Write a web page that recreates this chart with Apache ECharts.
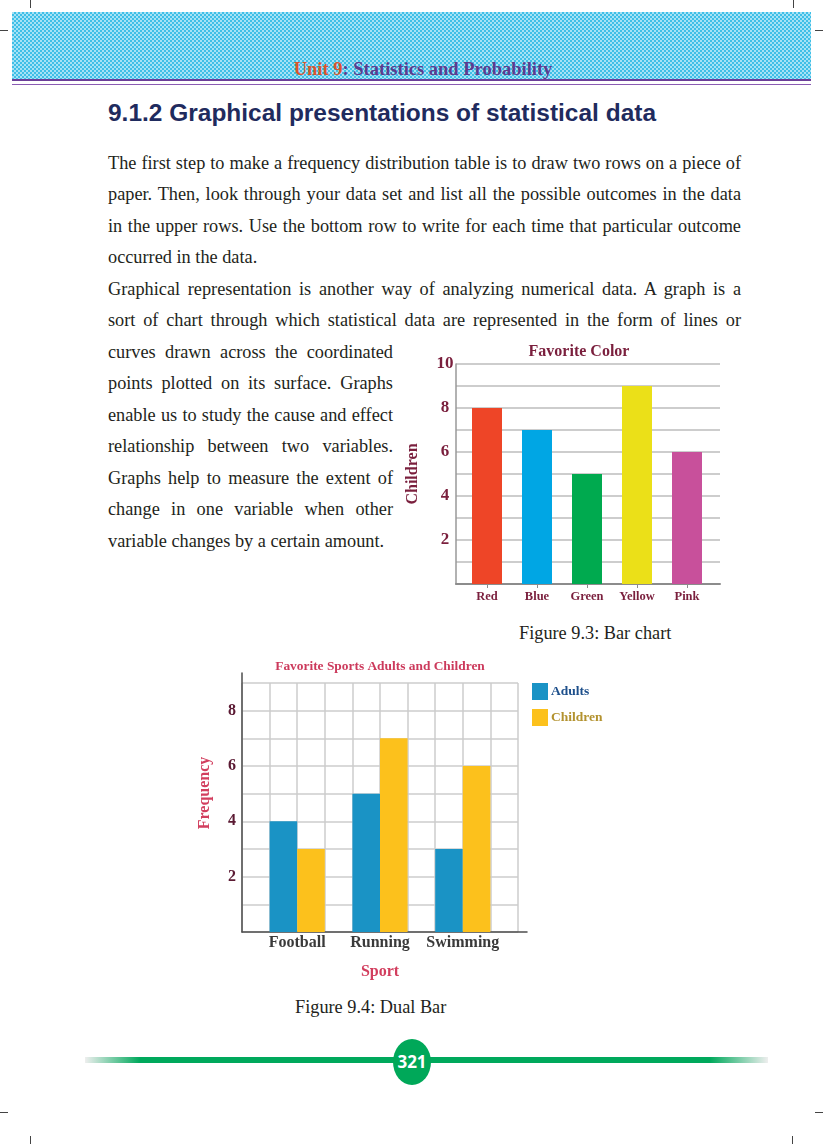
<!DOCTYPE html>
<html>
<head>
<meta charset="utf-8">
<script src="https://cdn.jsdelivr.net/npm/echarts@6/dist/echarts.min.js"></script>
<style>
  html,body{margin:0;padding:0;background:#fff;}
  body{width:823px;height:1144px;position:relative;overflow:hidden;font-family:"Liberation Serif","Times New Roman",serif;color:#231f20;}
  .abs{position:absolute;}
  .band{left:12px;top:12px;width:799px;height:67px;
    background:repeating-conic-gradient(#3fbfe7 0% 25%, #a6e2f5 0% 50%) 0 0/4px 4px;}
  .pl1{left:12px;top:79px;width:799px;height:2px;background:#6b3f98;}
  .pl2{left:12px;top:84px;width:799px;height:1px;background:#8a5cb3;}
  .unit{left:0;width:846px;top:60px;text-align:center;font-weight:bold;font-size:18.5px;line-height:18.5px;color:#5d3b8e;}
  .unit span{color:#d9542c;}
  .h2{left:108px;top:102px;font-family:"Liberation Sans",Arial,sans-serif;font-weight:bold;font-size:23px;line-height:23px;color:#1f2b5e;white-space:nowrap;transform-origin:0 0;}
  .ln{font-size:18.3px;line-height:18.3px;white-space:nowrap;transform-origin:0 0;}
  .cap{font-size:18.3px;line-height:18.3px;white-space:nowrap;}
  .mark{background:#444;}
  .fline{left:85px;top:1057px;width:683px;height:6px;
    background:linear-gradient(to right,rgba(200,200,200,0.3) 0px,#00a95c 55px,#00a95c 625px,rgba(200,200,200,0.3) 683px);}
  .oval{left:393px;top:1039px;width:38px;height:46px;border-radius:50%;background:#00a859;color:#fff;
    font-family:"Open Sans","Liberation Sans",sans-serif;font-weight:bold;font-size:17px;line-height:46px;text-align:center;}
  #chart{position:absolute;left:0;top:0;width:823px;height:1144px;}
</style>
</head>
<body>
<div class="abs mark" style="left:30px;top:0;width:1px;height:8px"></div>
<div class="abs mark" style="left:0;top:30px;width:8px;height:1px"></div>
<div class="abs mark" style="left:793px;top:0;width:1px;height:8px"></div>
<div class="abs mark" style="left:815px;top:30px;width:8px;height:1px"></div>
<div class="abs mark" style="left:0;top:1112px;width:8px;height:1px"></div>
<div class="abs mark" style="left:30px;top:1136px;width:1px;height:8px"></div>
<div class="abs mark" style="left:815px;top:1112px;width:8px;height:1px"></div>
<div class="abs mark" style="left:792px;top:1136px;width:1px;height:8px"></div>

<div class="abs band"></div>
<div class="abs pl1"></div>
<div class="abs pl2"></div>
<div class="abs unit"><span>Unit 9</span>: Statistics and Probability</div>
<div class="abs h2" id="h2">9.1.2 Graphical presentations of statistical data</div>
<div id="text"></div>
<div class="abs cap" style="left:519px;top:624px">Figure 9.3: Bar chart</div>
<div class="abs cap" style="left:295px;top:998px">Figure 9.4: Dual Bar</div>
<div class="abs fline"></div>
<div class="abs oval">321</div>
<div id="chart"></div>
<script>
// ---------- page text ----------
const bodyLines = [
  ["The first step to make a frequency distribution table is to draw two rows on a piece of", 633, true],
  ["paper. Then, look through your data set and list all the possible outcomes in the data", 633, true],
  ["in the upper rows. Use the bottom row to write for each time that particular outcome", 633, true],
  ["occurred in the data.", 633, false],
  ["Graphical representation is another way of analyzing numerical data. A graph is a", 633, true],
  ["sort of chart through which statistical data are represented in the form of lines or", 633, true],
  ["curves drawn across the coordinated", 285, true],
  ["points plotted on its surface. Graphs", 285, true],
  ["enable us to study the cause and effect", 285, true],
  ["relationship between two variables.", 285, true],
  ["Graphs help to measure the extent of", 285, true],
  ["change in one variable when other", 285, true],
  ["variable changes by a certain amount.", 285, false]
];

// ---------- chart data ----------
const colorCats = ['Red', 'Blue', 'Green', 'Yellow', 'Pink'];
const colorVals = [8, 7, 5, 9, 6];
const colorFills = ['#ee4527', '#00a6e4', '#00aa4f', '#ebe018', '#c8509b'];
const colorTickLabels = [2, 4, 6, 8, 10];

const sportCats = ['Football', 'Running', 'Swimming'];
const adultsVals = [4, 5, 3];
const childrenVals = [3, 7, 6];
const sportTickLabels = [2, 4, 6, 8];

(function layoutText(){
  const box = document.getElementById('text');
  bodyLines.forEach((l, i) => {
    const d = document.createElement('div');
    d.className = 'abs ln';
    d.textContent = l[0];
    d.style.left = '108px';
    d.style.top = (169 + i * 31.5 - 15.3) + 'px';
    box.appendChild(d);
    const w = d.getBoundingClientRect().width;
    const sp = (l[0].match(/ /g) || []).length;
    if (w > l[1]) d.style.transform = 'scaleX(' + (l[1] / w) + ')';
    else if (l[2] && sp) d.style.wordSpacing = ((l[1] - w) / sp) + 'px';
  });
  const h = document.getElementById('h2');
  const hw = h.getBoundingClientRect().width;
  h.style.transform = 'scaleX(' + (548 / hw) + ')';
})();

// ---------- charts ----------
const SERIF = '"Liberation Serif","Times New Roman",serif';
const maroon = '#7a1f3d';
const chart = echarts.init(document.getElementById('chart'), null, {renderer: 'canvas'});

const hidden = {show: false};
const option = {
  animation: false,
  backgroundColor: 'transparent',
  textStyle: {fontFamily: SERIF},
  title: [
    {text: 'Favorite Color', left: 579, top: 344, textAlign: 'center', padding: 0,
     textStyle: {fontFamily: SERIF, fontWeight: 'bold', fontSize: 16, color: maroon}},
    {text: 'Favorite Sports Adults and Children', left: 380, top: 660, textAlign: 'center', padding: 0,
     textStyle: {fontFamily: SERIF, fontWeight: 'bold', fontSize: 13.4, color: '#cc3a5c'}}
  ],
  legend: {
    orient: 'vertical', left: 532, top: 683, itemWidth: 16, itemHeight: 17, itemGap: 9,
    padding: 0, icon: 'rect',
    data: [
      {name: 'Adults', textStyle: {color: '#1d4f8b'}},
      {name: 'Children', textStyle: {color: '#b3922f'}}
    ],
    textStyle: {fontFamily: SERIF, fontWeight: 'bold', fontSize: 13.5, padding: [0, 0, 0, -2]}
  },
  grid: [
    {left: 456, top: 364, width: 264, height: 220},
    {left: 462, top: 364, width: 250, height: 220},
    {left: 242, top: 683, width: 276, height: 249},
    {left: 255.8, top: 683, width: 248.4, height: 249},
    {left: 242, top: 673, width: 285, height: 259}
  ],
  xAxis: [
    {gridIndex: 0, type: 'value', min: 0, max: 1,
     axisLine: {show: true, lineStyle: {color: '#8c8c8c', width: 2}},
     axisTick: hidden, axisLabel: hidden, splitLine: hidden},
    {gridIndex: 1, type: 'category', data: colorCats,
     axisLine: {show: false},
     axisTick: {show: true, alignWithLabel: true, length: 4, lineStyle: {color: '#8c8c8c'}},
     axisLabel: {interval: 0, hideOverlap: false, margin: 6, fontFamily: SERIF, fontWeight: 'bold', fontSize: 12.5, color: maroon},
     splitLine: hidden},
    {gridIndex: 2, type: 'value', min: 0, max: 10, interval: 1,
     axisLine: hidden, axisTick: hidden, axisLabel: hidden,
     splitLine: {show: true, lineStyle: {color: '#cccccc', width: 1.5}}},
    {gridIndex: 3, type: 'category', data: sportCats,
     axisLine: hidden, axisTick: hidden,
     axisLabel: {interval: 0, hideOverlap: false, margin: 3, fontFamily: SERIF, fontWeight: 'bold', fontSize: 16, color: '#3a3a3a'},
     name: 'Sport', nameLocation: 'middle', nameGap: 32,
     nameTextStyle: {fontFamily: SERIF, fontWeight: 'bold', fontSize: 16, color: '#d23e5e'},
     splitLine: hidden},
    {gridIndex: 4, type: 'value', min: 0, max: 1,
     axisLine: {show: true, lineStyle: {color: '#4d4d4d', width: 1.5}},
     axisTick: hidden, axisLabel: hidden, splitLine: hidden}
  ],
  yAxis: [
    {gridIndex: 0, type: 'value', min: 0, max: 10, interval: 1,
     axisLine: {show: true, lineStyle: {color: '#999999', width: 1.5}},
     axisTick: hidden,
     axisLabel: {margin: 11, align: 'center', fontFamily: SERIF, fontWeight: 'bold', fontSize: 17, color: maroon,
       formatter: v => colorTickLabels.includes(v) ? String(v) : ''},
     splitLine: {show: true, lineStyle: {color: '#bcbcbc', width: 1.5}},
     name: 'Children', nameLocation: 'middle', nameGap: 35,
     nameTextStyle: {fontFamily: SERIF, fontWeight: 'bold', fontSize: 16, color: maroon}},
    {gridIndex: 1, type: 'value', min: 0, max: 10, show: false},
    {gridIndex: 2, type: 'value', min: 0, max: 9, interval: 1,
     axisLine: hidden, axisTick: hidden,
     axisLabel: {margin: 6, fontFamily: SERIF, fontWeight: 'bold', fontSize: 16, color: '#5b1a33',
       formatter: v => sportTickLabels.includes(v) ? String(v) : ''},
     splitLine: {show: true, lineStyle: {color: '#cccccc', width: 1.5}}},
    {gridIndex: 3, type: 'value', min: 0, max: 9, show: false},
    {gridIndex: 4, type: 'value', min: 0, max: 1,
     axisLine: {show: true, lineStyle: {color: '#4d4d4d', width: 1.5}},
     axisTick: hidden, axisLabel: hidden, splitLine: hidden}
  ],
  graphic: [
    {type: 'text', x: 205, y: 793, rotation: Math.PI / 2,
     style: {text: 'Frequency', fontFamily: SERIF, fontWeight: 'bold', fontSize: 16, fill: '#d23e5e',
       textAlign: 'center', textVerticalAlign: 'middle'}}
  ],
  series: [
    {name: 'Favorite Color', type: 'bar', xAxisIndex: 1, yAxisIndex: 1, barWidth: 30,
     data: colorVals.map((v, i) => ({value: v, itemStyle: {color: colorFills[i]}}))},
    {name: 'Adults', type: 'bar', xAxisIndex: 3, yAxisIndex: 3, barWidth: 27.6, barGap: '0%',
     itemStyle: {color: '#1a93c5'}, data: adultsVals},
    {name: 'Children', type: 'bar', xAxisIndex: 3, yAxisIndex: 3, barWidth: 27.6, barGap: '0%',
     itemStyle: {color: '#fcc11c'}, data: childrenVals}
  ]
};
chart.setOption(option);
</script>
</body>
</html>
